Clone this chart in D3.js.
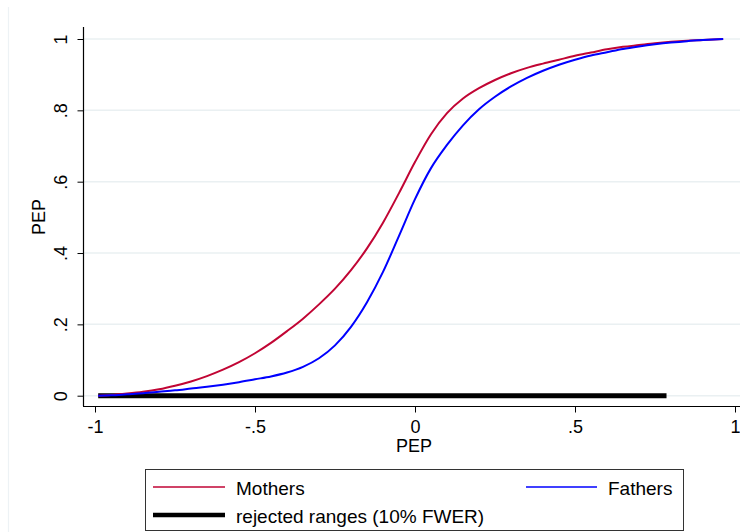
<!DOCTYPE html>
<html>
<head>
<meta charset="utf-8">
<script src="https://cdn.jsdelivr.net/npm/d3@7"></script>
<style>
  html, body { margin: 0; padding: 0; background: #ffffff; }
  svg { display: block; font-family: "Liberation Sans", Arial, sans-serif; }
</style>
</head>
<body>
<svg id="chart" width="740" height="532"></svg>
<script>
// Cumulative distribution of PEP by parent group
const pepGrid = [-0.99, -0.95, -0.9, -0.85, -0.8, -0.75, -0.7, -0.65, -0.6, -0.55,
  -0.5, -0.45, -0.4, -0.35, -0.3, -0.25, -0.2, -0.15, -0.1, -0.05,
  0, 0.05, 0.1, 0.15, 0.2, 0.25, 0.3, 0.35, 0.4, 0.45,
  0.5, 0.55, 0.6, 0.65, 0.7, 0.75, 0.8, 0.85, 0.9, 0.963];

const mothers = [0, 0.002, 0.006, 0.011, 0.018, 0.028, 0.040, 0.055, 0.073, 0.094,
  0.119, 0.148, 0.181, 0.216, 0.256, 0.300, 0.352, 0.413, 0.485, 0.568,
  0.655, 0.733, 0.792, 0.833, 0.862, 0.885, 0.904, 0.919, 0.931, 0.942,
  0.953, 0.962, 0.971, 0.978, 0.983, 0.988, 0.992, 0.995, 0.997, 1.0];

const fathers = [0, 0.001, 0.004, 0.007, 0.011, 0.015, 0.020, 0.025, 0.031, 0.038,
  0.046, 0.054, 0.065, 0.081, 0.105, 0.141, 0.193, 0.262, 0.347, 0.448,
  0.551, 0.638, 0.703, 0.758, 0.803, 0.838, 0.867, 0.891, 0.911, 0.928,
  0.942, 0.954, 0.963, 0.972, 0.979, 0.985, 0.990, 0.994, 0.997, 1.0];

// Range of PEP where equality is rejected
const rejectedRange = [-0.99, 0.786];

const xTicks = [-1, -0.5, 0, 0.5, 1];
const yTicks = [0, 0.2, 0.4, 0.6, 0.8, 1];
const tickFmt = v => v === 0 ? "0" : (v < 0 ? "-" : "") + String(Math.abs(v)).replace(/^0\./, ".");

const seriesNames = ["Mothers", "Fathers"];
const seriesColors = ["#c10534", "#0000ff"];

const svg = d3.select("#chart");

// outer graph region edge
svg.append("line")
  .attr("x1", 8.5).attr("x2", 8.5).attr("y1", 7).attr("y2", 532)
  .attr("stroke", "#edf2f5").attr("stroke-width", 1.2);

const x = d3.scaleLinear().domain([-1, 1]).range([95, 735]);
const y = d3.scaleLinear().domain([0, 1]).range([395.7, 39]);
const plotLeft = 83.5, plotBottom = 406.5, plotTop = 27;

// grid lines
svg.append("g").selectAll("line").data(yTicks).join("line")
  .attr("x1", plotLeft).attr("x2", 740)
  .attr("y1", d => y(d)).attr("y2", d => y(d))
  .attr("stroke", "#eaf0f2").attr("stroke-width", 1.5);

// y axis
const yAxis = d3.axisLeft(y).tickValues(yTicks).tickFormat(tickFmt).tickSize(6).tickSizeOuter(0);
const gy = svg.append("g").attr("transform", `translate(${plotLeft},0)`).call(yAxis);
gy.select(".domain").attr("d", `M0,${plotTop}V${plotBottom - 0.5}`).attr("stroke", "#000").attr("stroke-width", 1.2);
gy.selectAll(".tick line").attr("stroke", "#000").attr("stroke-width", 1);
gy.selectAll(".tick text")
  .attr("font-size", 18).attr("fill", "#000")
  .attr("text-anchor", "middle")
  .attr("x", null).attr("dy", null)
  .attr("transform", "translate(-17,0) rotate(-90)");

// x axis
const xAxis = d3.axisBottom(x).tickValues(xTicks).tickFormat(tickFmt).tickSize(6).tickSizeOuter(0);
const gx = svg.append("g").attr("transform", `translate(0,${plotBottom})`).call(xAxis);
gx.select(".domain").attr("d", `M${plotLeft - 0.5},0H740`).attr("stroke", "#000").attr("stroke-width", 1.2);
gx.selectAll(".tick line").attr("stroke", "#000").attr("stroke-width", 1);
gx.selectAll(".tick text")
  .attr("font-size", 18).attr("fill", "#000")
  .attr("y", 26.5).attr("dy", null);

// axis titles
svg.append("text").attr("x", 414).attr("y", 452)
  .attr("text-anchor", "middle").attr("font-size", 18).text("PEP");
svg.append("text").attr("transform", "translate(45,217) rotate(-90)")
  .attr("text-anchor", "middle").attr("font-size", 18).text("PEP");

// rejected range band on the zero line
svg.append("line")
  .attr("x1", x(rejectedRange[0])).attr("x2", x(rejectedRange[1]))
  .attr("y1", y(0)).attr("y2", y(0))
  .attr("stroke", "#000").attr("stroke-width", 5);

// CDF curves
const line = d3.line().x(d => x(d[0])).y(d => y(d[1])).curve(d3.curveMonotoneX);
[mothers, fathers].forEach((vals, i) => {
  svg.append("path")
    .datum(pepGrid.map((p, j) => [p, vals[j]]))
    .attr("d", line)
    .attr("fill", "none")
    .attr("stroke", seriesColors[i])
    .attr("stroke-width", 2);
});

// legend
const lg = svg.append("g");
lg.append("rect").attr("x", 145.5).attr("y", 469.5).attr("width", 538).attr("height", 61)
  .attr("fill", "#fff").attr("stroke", "#333").attr("stroke-width", 1);
const legendItems = [
  { label: seriesNames[0], color: seriesColors[0], w: 1.3, x1: 153, x2: 225, y: 487 },
  { label: seriesNames[1], color: seriesColors[1], w: 1.3, x1: 526, x2: 597, y: 487 },
  { label: "rejected ranges (10% FWER)", color: "#000", w: 4.5, x1: 153, x2: 225, y: 515 }
];
legendItems.forEach(it => {
  lg.append("line").attr("x1", it.x1).attr("x2", it.x2).attr("y1", it.y).attr("y2", it.y)
    .attr("stroke", it.color).attr("stroke-width", it.w);
  lg.append("text").attr("x", it.x2 + 11).attr("y", it.y + 7.5)
    .attr("font-size", 19).attr("fill", "#000").text(it.label);
});
</script>
</body>
</html>
